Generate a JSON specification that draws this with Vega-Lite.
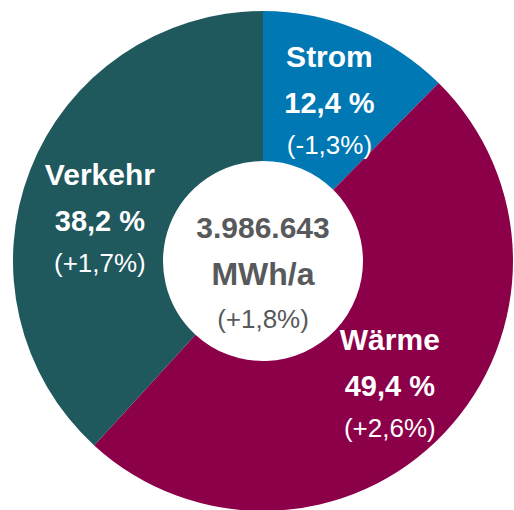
{
  "$schema": "https://vega.github.io/schema/vega-lite/v6.json",
  "width": 526,
  "height": 522,
  "padding": 0,
  "autosize": {"type": "none"},
  "background": "white",
  "config": {"view": {"stroke": null}},
  "layer": [
    {
      "data": {"name": "segments", "values": [
        {"sector": "Strom", "order": 1, "share": 12.4, "pct": "12,4 %", "change": "(-1,3%)"},
        {"sector": "Wärme", "order": 2, "share": 49.4, "pct": "49,4 %", "change": "(+2,6%)"},
        {"sector": "Verkehr", "order": 3, "share": 38.2, "pct": "38,2 %", "change": "(+1,7%)"}
      ]},
      "encoding": {
        "theta": {"field": "share", "type": "quantitative", "stack": true},
        "order": {"field": "order", "type": "quantitative"}
      },
      "layer": [
        {
          "mark": {"type": "arc", "outerRadius": 250, "innerRadius": 100},
          "encoding": {
            "color": {"field": "sector", "type": "nominal", "legend": null,
              "scale": {"domain": ["Strom", "Wärme", "Verkehr"], "range": ["#0078B4", "#8B0048", "#1F585D"]}}
          }
        },
        {
          "mark": {"type": "text", "radius": 175, "font": "Liberation Sans", "fontWeight": "bold", "fontSize": 30, "fill": "white", "baseline": "alphabetic", "align": "center",
            "dy": {"expr": "datum.sector === 'Verkehr' ? -13 : -32"}},
          "encoding": {"text": {"field": "sector"}}
        },
        {
          "mark": {"type": "text", "radius": 175, "font": "Liberation Sans", "fontWeight": "bold", "fontSize": 29, "fill": "white", "baseline": "alphabetic", "align": "center",
            "dy": {"expr": "datum.sector === 'Verkehr' ? 33 : 14"}},
          "encoding": {"text": {"field": "pct"}}
        },
        {
          "mark": {"type": "text", "radius": 175, "font": "Liberation Sans", "fontWeight": "normal", "fontSize": 26, "fill": "white", "baseline": "alphabetic", "align": "center",
            "dy": {"expr": "datum.sector === 'Verkehr' ? 74 : 55"}},
          "encoding": {"text": {"field": "change"}}
        }
      ]
    },
    {
      "data": {"name": "total", "values": [
        {"total": "3.986.643", "unit": "MWh/a", "change": "(+1,8%)"}
      ]},
      "layer": [
        {
          "mark": {"type": "text", "font": "Liberation Sans", "fontWeight": "bold", "fontSize": 30, "fill": "#58595B", "baseline": "alphabetic", "align": "center", "dy": -23},
          "encoding": {"text": {"field": "total"}}
        },
        {
          "mark": {"type": "text", "font": "Liberation Sans", "fontWeight": "bold", "fontSize": 32, "fill": "#58595B", "baseline": "alphabetic", "align": "center", "dy": 24},
          "encoding": {"text": {"field": "unit"}}
        },
        {
          "mark": {"type": "text", "font": "Liberation Sans", "fontWeight": "normal", "fontSize": 26, "fill": "#58595B", "baseline": "alphabetic", "align": "center", "dy": 67},
          "encoding": {"text": {"field": "change"}}
        }
      ]
    }
  ]
}
